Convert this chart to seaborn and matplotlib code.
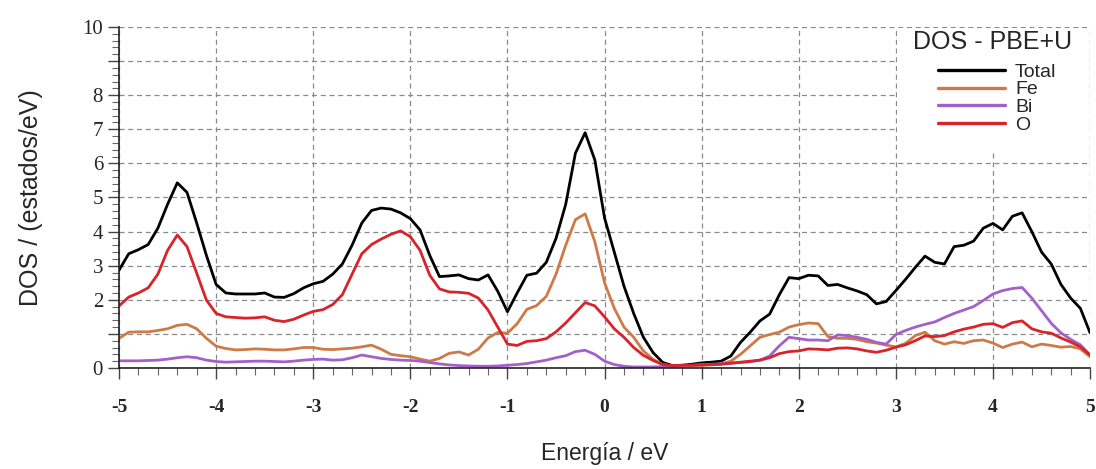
import numpy as np
import pandas as pd
import matplotlib
matplotlib.use("Agg")
import matplotlib.pyplot as plt
from matplotlib.patches import Rectangle
from matplotlib.ticker import MultipleLocator
import seaborn as sns


# Energy grid (eV), 0.1 eV step
energia = np.round(np.linspace(-5, 5, 101), 2)

total = [
    2.87, 3.35, 3.47, 3.62, 4.10, 4.80, 5.43, 5.15, 4.25, 3.30,
    2.45, 2.20, 2.17, 2.17, 2.17, 2.20, 2.08, 2.07, 2.18, 2.35,
    2.47, 2.54, 2.75, 3.05, 3.60, 4.25, 4.62, 4.69, 4.66, 4.55,
    4.38, 4.05, 3.30, 2.68, 2.70, 2.73, 2.62, 2.58, 2.73, 2.25,
    1.65, 2.20, 2.72, 2.78, 3.10, 3.80, 4.80, 6.30, 6.90, 6.10,
    4.40, 3.40, 2.40, 1.60, 0.90, 0.45, 0.16, 0.07, 0.08, 0.11,
    0.15, 0.17, 0.20, 0.35, 0.75, 1.05, 1.38, 1.58, 2.15, 2.65,
    2.62, 2.72, 2.70, 2.42, 2.45, 2.35, 2.26, 2.15, 1.88, 1.95,
    2.27, 2.60, 2.95, 3.28, 3.10, 3.05, 3.56, 3.60, 3.72, 4.10,
    4.24, 4.05, 4.45, 4.55, 4.00, 3.40, 3.05, 2.45, 2.05, 1.75,
    1.03,
]

fe = [
    0.87, 1.05, 1.06, 1.06, 1.10, 1.15, 1.25, 1.28, 1.15, 0.87,
    0.64, 0.57, 0.53, 0.54, 0.56, 0.55, 0.53, 0.53, 0.56, 0.60,
    0.60, 0.55, 0.54, 0.56, 0.58, 0.62, 0.67, 0.55, 0.40, 0.36,
    0.33, 0.26, 0.20, 0.28, 0.43, 0.47, 0.38, 0.55, 0.88, 1.04,
    1.02, 1.30, 1.72, 1.83, 2.10, 2.75, 3.60, 4.35, 4.52, 3.70,
    2.50, 1.75, 1.20, 0.90, 0.50, 0.25, 0.10, 0.06, 0.06, 0.07,
    0.08, 0.09, 0.12, 0.20, 0.40, 0.65, 0.90, 0.98, 1.05, 1.20,
    1.27, 1.32, 1.30, 0.92, 0.87, 0.87, 0.84, 0.77, 0.73, 0.67,
    0.62, 0.72, 0.95, 1.05, 0.80, 0.70, 0.77, 0.72, 0.80, 0.82,
    0.73, 0.60, 0.70, 0.76, 0.62, 0.70, 0.66, 0.61, 0.63, 0.56,
    0.33,
]

bi = [
    0.21, 0.21, 0.21, 0.22, 0.23, 0.26, 0.30, 0.33, 0.30, 0.23,
    0.19, 0.17, 0.18, 0.19, 0.20, 0.20, 0.19, 0.18, 0.20, 0.23,
    0.25, 0.26, 0.23, 0.24, 0.30, 0.38, 0.33, 0.28, 0.25, 0.23,
    0.22, 0.20, 0.16, 0.12, 0.09, 0.07, 0.06, 0.05, 0.05, 0.06,
    0.08, 0.10, 0.13, 0.18, 0.23, 0.30, 0.36, 0.48, 0.52, 0.40,
    0.20, 0.10, 0.05, 0.03, 0.03, 0.03, 0.04, 0.05, 0.06, 0.08,
    0.10, 0.11, 0.12, 0.14, 0.16, 0.18, 0.23, 0.35, 0.65, 0.90,
    0.86, 0.82, 0.82, 0.80, 0.97, 0.95, 0.90, 0.84, 0.75, 0.70,
    0.98, 1.10, 1.20, 1.28, 1.35, 1.48, 1.60, 1.70, 1.80, 1.98,
    2.17, 2.27, 2.33, 2.36, 2.05, 1.68, 1.31, 1.03, 0.84, 0.68,
    0.38,
]

o = [
    1.82, 2.08, 2.20, 2.35, 2.75, 3.45, 3.90, 3.56, 2.78, 1.99,
    1.60, 1.50, 1.48, 1.46, 1.47, 1.50, 1.40, 1.36, 1.43, 1.55,
    1.66, 1.71, 1.86, 2.15, 2.75, 3.35, 3.62, 3.78, 3.92, 4.02,
    3.85, 3.45, 2.72, 2.32, 2.23, 2.22, 2.19, 2.05, 1.70, 1.20,
    0.70, 0.66, 0.78, 0.80, 0.86, 1.06, 1.32, 1.62, 1.92, 1.82,
    1.50, 1.15, 0.90, 0.60, 0.37, 0.22, 0.10, 0.07, 0.08, 0.08,
    0.09, 0.10, 0.11, 0.14, 0.17, 0.20, 0.23, 0.30, 0.42, 0.48,
    0.50, 0.56, 0.55, 0.53, 0.58, 0.59, 0.56, 0.50, 0.46, 0.52,
    0.61, 0.68, 0.80, 0.94, 0.92, 0.95, 1.06, 1.14, 1.20, 1.28,
    1.30, 1.19, 1.33, 1.38, 1.15, 1.06, 1.02, 0.88, 0.76, 0.62,
    0.38,
]

series_names = ["Total", "Fe", "Bi", "O"]
series_values = [total, fe, bi, o]
colores = {"Total": "#000000", "Fe": "#cd7a48", "Bi": "#a360c8", "O": "#d8232a"}

y_ticks = [0, 1, 2, 3, 4, 5, 6, 7, 8, 9, 10]
y_tick_labels = ["0", "", "2", "3", "4", "5", "6", "7", "8", "", "10"]
x_ticks = [-5, -4, -3, -2, -1, 0, 1, 2, 3, 4, 5]

df = pd.concat(
    [pd.DataFrame({"Energia": energia, "DOS": vals, "Especie": name})
     for name, vals in zip(series_names, series_values)],
    ignore_index=True,
)

sns.set_style("ticks")
plt.rcParams["font.family"] = ["Liberation Sans", "DejaVu Sans"]

fig = plt.figure(figsize=(10.96, 4.69), dpi=100)
ax = fig.add_axes([0.1086, 0.2154, 0.886, 0.727])

for name in series_names:
    sns.lineplot(
        data=df[df["Especie"] == name],
        x="Energia", y="DOS",
        color=colores[name], linewidth=2.0,
        estimator=None, label=name, ax=ax,
    )

ax.set_xlim(-5, 5)
ax.set_ylim(0, 10)
ax.set_xticks(x_ticks)
ax.set_xticklabels([str(t) for t in x_ticks])
ax.set_yticks(y_ticks)
ax.set_yticklabels(y_tick_labels)
ax.xaxis.set_minor_locator(MultipleLocator(0.2))
ax.yaxis.set_minor_locator(MultipleLocator(0.2))

ax.grid(True, which="major", linestyle=(0, (4, 3)), color="#8a8a8a", linewidth=0.9)
ax.set_axisbelow(True)

for side in ["top", "right"]:
    ax.spines[side].set_visible(False)
for side in ["left", "bottom"]:
    ax.spines[side].set_linewidth(1.2)
    ax.spines[side].set_color("#222222")

ax.tick_params(axis="both", which="major", direction="out", length=8, width=1, color="#444444")
ax.tick_params(axis="both", which="minor", direction="out", length=5, width=0.8, color="#666666")
for lbl in ax.get_xticklabels():
    lbl.set_family("Liberation Serif")
    lbl.set_fontsize(14)
    lbl.set_fontweight("bold")
for lbl in ax.get_yticklabels():
    lbl.set_family("Liberation Serif")
    lbl.set_fontsize(15)
ax.tick_params(axis="x", pad=14)

ax.set_xlabel("Energía / eV", fontsize=16.5, labelpad=19)
ax.set_ylabel("DOS / (estados/eV)", fontsize=18, labelpad=28)

# white legend panel in the upper-right grid cell block
ax.add_patch(Rectangle((3.012, 6.35), 1.976, 3.63, facecolor="white",
                       edgecolor="none", zorder=1))
ax.text(4.0, 9.56, "DOS - PBE+U", fontsize=18, ha="center", va="center", zorder=3)

leg = ax.legend(
    loc="upper left", bbox_to_anchor=(3.435, 8.94),
    bbox_transform=ax.transData, fontsize=14, frameon=False,
    handlelength=3.45, handletextpad=0.5, labelspacing=0.0,
    borderaxespad=0.0, borderpad=0.0,
)
for line in leg.get_lines():
    line.set_linewidth(2.4)

fig.savefig("out.png", dpi=100)
